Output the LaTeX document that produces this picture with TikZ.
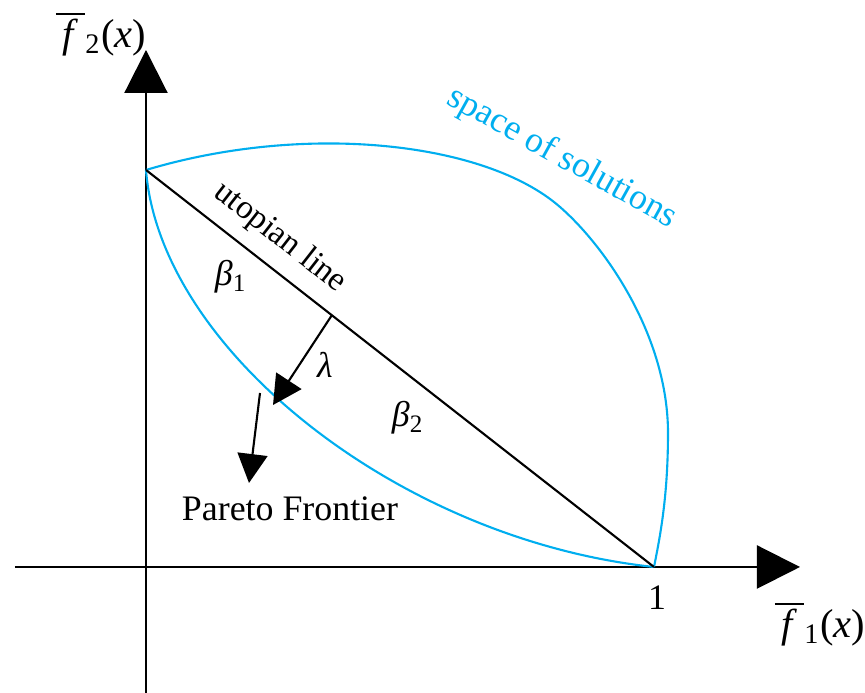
\documentclass[tikz,border=0pt]{standalone}
\usepackage{fontspec}
\setmainfont{Liberation Serif}
\definecolor{solblue}{HTML}{00AEEF}
\usepackage{tikz}
\usetikzlibrary{arrows.meta,positioning,calc}

\begin{document}
\begin{tikzpicture}[line width=0.6pt,font=\fontsize{10.2}{12}\selectfont,
  axisarrow/.style={-{Triangle[length=4.3mm,width=4.3mm]}},
  ptr/.style={-{Triangle[length=2.9mm,width=3mm]}},
  axislabel/.style={font=\fontsize{11.5}{13}\selectfont}]
  \useasboundingbox (-1.46,-1.26) rectangle (7.19,5.67);
  % axes
  \coordinate (O) at (0,0);
  \coordinate (xl) at (-1.31,0);
  \coordinate (xr) at (6.54,0);
  \coordinate (yb) at (0,-1.26);
  \coordinate (yt) at (0,5.17);
  \draw[axisarrow] (xl) -- (xr);
  \draw[axisarrow] (yb) -- (yt);
  \node[axislabel] (f1) at (6.74,-0.57) {$\overline{\hbox{\,\textit{f}\,}}$\textsubscript{1}(\textit{x})};
  \node[axislabel] (f2) at (-0.45,5.33) {$\overline{\hbox{\,\textit{f}\,}}$\textsubscript{2}(\textit{x})};
  \node (one) at (5.11,-0.31) {1};
  % utopian points
  \coordinate (A) at (0,3.97);
  \coordinate (B) at (5.08,0);
  \coordinate (T) at (4.14,3.60);
  \coordinate (R) at (5.22,1.34);
  % space of solutions
  \draw[solblue] (A) .. controls (1.6,4.45) and (3.4,4.25) .. (T)
    .. controls (4.6,3.2) and (5.22,2.3) .. (R)
    .. controls (5.22,0.7) and (5.14,0.3) .. (B);
  % pareto frontier
  \draw[solblue] (A) .. controls (0.14,2.17) and (2.54,0.27) .. (B);
  % utopian line
  \draw (A) -- (B);
  \node[rotate=-38,font=\fontsize{9.5}{11}\selectfont] (utop) at (1.34,3.29) {utopian line};
  \node[solblue,rotate=-29] (space) at (4.16,4.09) {space of solutions};
  \node (beta1) at (0.85,2.90) {\textit{β}\textsubscript{1}};
  \node (beta2) at (2.62,1.49) {\textit{β}\textsubscript{2}};
  % lambda
  \coordinate (foot) at (1.86,2.52);
  \coordinate (ltip) at (1.27,1.62);
  \draw[ptr] (foot) -- (ltip);
  \node (lam) at (1.79,2.02) {\textit{λ}};
  % pareto arrow
  \coordinate (pf) at (1.14,1.74);
  \coordinate (ptip) at (1.03,0.84);
  \draw[ptr] (pf) -- (ptip);
  \node (pareto) at (1.44,0.58) {Pareto Frontier};
\end{tikzpicture}
\end{document}
